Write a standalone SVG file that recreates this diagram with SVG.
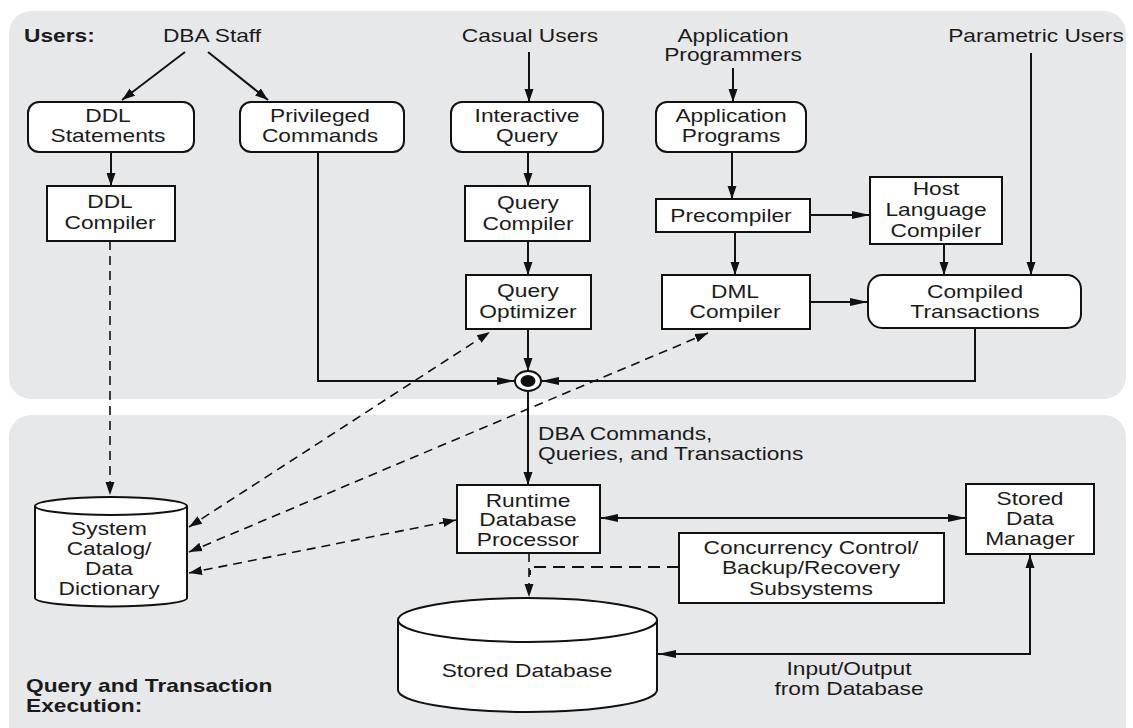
<svg xmlns="http://www.w3.org/2000/svg" width="1133" height="728" viewBox="0 0 1133 728">
<defs>
<style>
.panel{fill:#e7e8ea;stroke:none}
.box{fill:#fff;stroke:#111;stroke-width:2}
.t{font-family:"Liberation Sans",Arial,Helvetica,sans-serif;font-size:17.5px;fill:#1b1b1b;text-anchor:middle}
.tl{text-anchor:start}
.b{font-weight:bold}
.c{fill:none;stroke:#111;stroke-width:2}
.d{fill:none;stroke:#111;stroke-width:1.6;stroke-dasharray:9 6}
.d2{fill:none;stroke:#111;stroke-width:2;stroke-dasharray:12 7}
.ah{fill:#111;stroke:none}
</style>
<marker id="aV" markerUnits="userSpaceOnUse" markerWidth="14" markerHeight="10" refX="13" refY="5" orient="auto"><path class="ah" d="M0,0.5 L13,5 L0,9.5 Z"/></marker>
<marker id="aVs" markerUnits="userSpaceOnUse" markerWidth="14" markerHeight="10" refX="13" refY="5" orient="auto-start-reverse"><path class="ah" d="M0,0.5 L13,5 L0,9.5 Z"/></marker>
<marker id="aH" markerUnits="userSpaceOnUse" markerWidth="19" markerHeight="9" refX="18" refY="4.5" orient="auto"><path class="ah" d="M0,0.5 L18,4.5 L0,8.5 Z"/></marker>
<marker id="aHs" markerUnits="userSpaceOnUse" markerWidth="19" markerHeight="9" refX="18" refY="4.5" orient="auto-start-reverse"><path class="ah" d="M0,0.5 L18,4.5 L0,8.5 Z"/></marker>
</defs>
<rect width="1133" height="728" fill="#fff"/>
<g id="panels">
<rect class="panel" x="9" y="11" width="1117" height="388" rx="22"/>
<rect class="panel" x="9" y="415" width="1117" height="340" rx="22"/>
</g>
<g id="labels">
<text class="t tl b" transform="translate(24,41.5) scale(1.3,1)">Users:</text>
<text class="t tl b" transform="translate(26,692) scale(1.3,1)"><tspan x="0" y="0">Query and Transaction</tspan><tspan x="0" y="20">Execution:</tspan></text>
<text class="t tl" transform="translate(538,440) scale(1.3,1)"><tspan x="0" y="0">DBA Commands,</tspan><tspan x="0" y="20">Queries, and Transactions</tspan></text>
<text class="t" transform="translate(849,675) scale(1.3,1)"><tspan x="0" y="0">Input/Output</tspan><tspan x="0" y="20">from Database</tspan></text>
</g>
<g id="dba-staff"><text class="t" transform="translate(212,41.5) scale(1.3,1)">DBA Staff</text></g>
<g id="casual-users"><text class="t" transform="translate(530,41.5) scale(1.3,1)">Casual Users</text></g>
<g id="application-programmers"><text class="t" transform="translate(733,41.5) scale(1.3,1)"><tspan x="0" y="0">Application</tspan><tspan x="0" y="19.5">Programmers</tspan></text></g>
<g id="parametric-users"><text class="t" transform="translate(1036,41.5) scale(1.3,1)">Parametric Users</text></g>

<g id="ddl-statements"><rect class="box" x="28" y="102" width="166" height="50" rx="11"/>
<text class="t" transform="translate(108,122) scale(1.3,1)"><tspan x="0" y="0">DDL</tspan><tspan x="0" y="20">Statements</tspan></text></g>
<g id="privileged-commands"><rect class="box" x="240" y="102" width="164" height="50" rx="11"/>
<text class="t" transform="translate(320,122) scale(1.3,1)"><tspan x="0" y="0">Privileged</tspan><tspan x="0" y="20">Commands</tspan></text></g>
<g id="interactive-query"><rect class="box" x="451" y="102" width="152" height="50" rx="11"/>
<text class="t" transform="translate(527,122) scale(1.3,1)"><tspan x="0" y="0">Interactive</tspan><tspan x="0" y="20">Query</tspan></text></g>
<g id="application-programs"><rect class="box" x="656" y="102" width="150" height="50" rx="11"/>
<text class="t" transform="translate(731,122) scale(1.3,1)"><tspan x="0" y="0">Application</tspan><tspan x="0" y="20">Programs</tspan></text></g>
<g id="ddl-compiler"><rect class="box" x="47" y="186" width="128" height="55"/>
<text class="t" transform="translate(110,208) scale(1.3,1)"><tspan x="0" y="0">DDL</tspan><tspan x="0" y="21">Compiler</tspan></text></g>
<g id="query-compiler"><rect class="box" x="465" y="186" width="125" height="55"/>
<text class="t" transform="translate(528,209) scale(1.3,1)"><tspan x="0" y="0">Query</tspan><tspan x="0" y="21">Compiler</tspan></text></g>
<g id="query-optimizer"><rect class="box" x="466" y="275" width="125" height="54"/>
<text class="t" transform="translate(528,297) scale(1.3,1)"><tspan x="0" y="0">Query</tspan><tspan x="0" y="21">Optimizer</tspan></text></g>
<g id="precompiler"><rect class="box" x="656" y="199" width="154" height="33"/>
<text class="t" transform="translate(731,222) scale(1.3,1)">Precompiler</text></g>
<g id="host-language-compiler"><rect class="box" x="870" y="177" width="132" height="67"/>
<text class="t" transform="translate(936,195) scale(1.3,1)"><tspan x="0" y="0">Host</tspan><tspan x="0" y="21">Language</tspan><tspan x="0" y="42">Compiler</tspan></text></g>
<g id="dml-compiler"><rect class="box" x="662" y="275" width="148" height="54"/>
<text class="t" transform="translate(735,298) scale(1.3,1)"><tspan x="0" y="0">DML</tspan><tspan x="0" y="20">Compiler</tspan></text></g>
<g id="compiled-transactions"><rect class="box" x="868" y="275" width="213" height="53" rx="14"/>
<text class="t" transform="translate(975,298) scale(1.3,1)"><tspan x="0" y="0">Compiled</tspan><tspan x="0" y="20">Transactions</tspan></text></g>
<g id="junction"><ellipse cx="528" cy="381" rx="13" ry="10" fill="#fff" stroke="#111" stroke-width="2"/><ellipse cx="528" cy="381" rx="7.5" ry="6" fill="#111"/></g>

<g id="system-catalog">
<path class="box" d="M35,506 V598 A76,8.5 0 0 0 187,598 V506"/>
<ellipse class="box" cx="111" cy="506" rx="76" ry="9"/>
<text class="t" transform="translate(109,535) scale(1.3,1)"><tspan x="0" y="0">System</tspan><tspan x="0" y="20">Catalog/</tspan><tspan x="0" y="40">Data</tspan><tspan x="0" y="60">Dictionary</tspan></text></g>
<g id="runtime-db-processor"><rect class="box" x="457" y="485" width="143" height="68"/>
<text class="t" transform="translate(528,507) scale(1.3,1)"><tspan x="0" y="0">Runtime</tspan><tspan x="0" y="19.5">Database</tspan><tspan x="0" y="39">Processor</tspan></text></g>
<g id="stored-data-manager"><rect class="box" x="966" y="484" width="128" height="70"/>
<text class="t" transform="translate(1030,505) scale(1.3,1)"><tspan x="0" y="0">Stored</tspan><tspan x="0" y="20">Data</tspan><tspan x="0" y="40">Manager</tspan></text></g>
<g id="concurrency-control"><rect class="box" x="679" y="533" width="265" height="70"/>
<text class="t" transform="translate(811,554) scale(1.3,1)"><tspan x="0" y="0">Concurrency Control/</tspan><tspan x="0" y="20.5">Backup/Recovery</tspan><tspan x="0" y="41">Subsystems</tspan></text></g>
<g id="stored-database">
<path class="box" d="M398,620 V690 A129.5,22 0 0 0 657,690 V620"/>
<ellipse class="box" cx="527.5" cy="620" rx="129.5" ry="22"/>
<text class="t" transform="translate(527,677) scale(1.3,1)">Stored Database</text></g>

<g id="connectors">
<line class="c" x1="185" y1="52" x2="122" y2="100" marker-end="url(#aV)"/>
<line class="c" x1="208" y1="52" x2="268" y2="100" marker-end="url(#aV)"/>
<line class="c" x1="111" y1="152" x2="111" y2="186" marker-end="url(#aV)"/>
<line class="d" x1="110" y1="241" x2="110" y2="495" marker-end="url(#aV)"/>
<line class="c" x1="529" y1="52" x2="529" y2="102" marker-end="url(#aV)"/>
<line class="c" x1="528" y1="152" x2="528" y2="186" marker-end="url(#aV)"/>
<line class="c" x1="528" y1="241" x2="528" y2="275" marker-end="url(#aV)"/>
<line class="c" x1="528" y1="329" x2="528" y2="371" marker-end="url(#aV)"/>
<path class="c" d="M318,152 V381 H515" marker-end="url(#aH)"/>
<path class="c" d="M975,328 V381 H541" marker-end="url(#aH)"/>
<line class="c" x1="528" y1="391" x2="528" y2="485" marker-end="url(#aV)"/>
<line class="c" x1="733" y1="68" x2="733" y2="102" marker-end="url(#aV)"/>
<line class="c" x1="732" y1="152" x2="732" y2="199" marker-end="url(#aV)"/>
<line class="c" x1="810" y1="215" x2="870" y2="215" marker-end="url(#aH)"/>
<line class="c" x1="735" y1="232" x2="735" y2="275" marker-end="url(#aV)"/>
<line class="c" x1="810" y1="302" x2="868" y2="302" marker-end="url(#aH)"/>
<line class="c" x1="944" y1="244" x2="944" y2="275" marker-end="url(#aV)"/>
<line class="c" x1="1031" y1="53" x2="1031" y2="275" marker-end="url(#aV)"/>
<line class="c" x1="600" y1="518" x2="966" y2="518" marker-start="url(#aHs)" marker-end="url(#aH)"/>
<path class="c" d="M1030,555 V654 H658" marker-start="url(#aVs)" marker-end="url(#aH)"/>
<line class="d" x1="529" y1="553" x2="529" y2="597" marker-end="url(#aV)"/>
<path class="d2" d="M679,567 H530 V575"/>
<line class="d" x1="189" y1="527" x2="490" y2="332" marker-start="url(#aVs)" marker-end="url(#aV)"/>
<line class="d" x1="189" y1="552" x2="708" y2="333" marker-start="url(#aVs)" marker-end="url(#aV)"/>
<line class="d" x1="189" y1="573" x2="456" y2="520" marker-start="url(#aVs)" marker-end="url(#aV)"/>
</g>
</svg>
